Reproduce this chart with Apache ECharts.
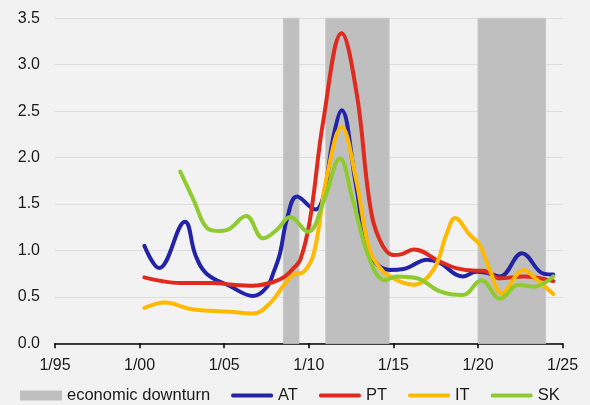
<!DOCTYPE html>
<html>
<head>
<meta charset="utf-8">
<script src="https://cdn.jsdelivr.net/npm/echarts@6/dist/echarts.min.js"></script>
<style>
  html, body { margin: 0; padding: 0; background: #f2f2f2; }
  #chart { width: 590px; height: 405px; }
</style>
</head>
<body>
<div id="chart"></div>
<script>
// [decimal year, value]
const AT = [
  [2000.28, 1.05], [2001.15, 0.81], [2002.68, 1.31], [2003.3, 0.95],
  [2003.96, 0.75], [2005.3, 0.62], [2006.72, 0.51], [2007.5, 0.6], [2007.95, 0.78],
  [2008.3, 0.97], [2008.7, 1.33], [2009.3, 1.58], [2010.4, 1.44], [2010.86, 1.58],
  [2011.45, 2.22], [2011.94, 2.51], [2012.8, 1.69], [2013.6, 0.97], [2014.8, 0.79],
  [2015.6, 0.8], [2017.0, 0.9], [2017.7, 0.87], [2019.1, 0.72], [2019.9, 0.77],
  [2020.5, 0.76], [2021.3, 0.72], [2022.6, 0.97], [2023.86, 0.75], [2024.45, 0.74]
];
const PT = [
  [2000.28, 0.71], [2001.3, 0.67], [2002.4, 0.65], [2004.4, 0.65], [2005.5, 0.63],
  [2006.7, 0.62], [2007.9, 0.66], [2008.6, 0.72], [2009.1, 0.81], [2009.5, 0.9],
  [2010.07, 1.33], [2010.86, 2.4], [2011.94, 3.34], [2012.83, 2.69], [2013.6, 1.51],
  [2014.2, 1.11], [2015.0, 0.95], [2015.5, 0.96], [2016.2, 1.01], [2017.75, 0.88],
  [2018.7, 0.81], [2019.9, 0.78], [2020.3, 0.78], [2021.3, 0.7], [2022.7, 0.72],
  [2024.45, 0.67]
];
const IT = [
  [2000.28, 0.38], [2001.5, 0.44], [2003.0, 0.37], [2005.3, 0.34], [2006.7, 0.32],
  [2007.7, 0.43], [2008.5, 0.62], [2009.1, 0.74], [2009.7, 0.77], [2010.3, 0.97],
  [2011.06, 1.79], [2011.94, 2.33], [2012.8, 1.76], [2013.6, 1.0], [2014.4, 0.77],
  [2014.8, 0.72], [2015.6, 0.65], [2016.2, 0.63], [2017.36, 0.79], [2018.15, 1.18],
  [2018.65, 1.35], [2019.5, 1.17], [2020.1, 1.06], [2020.7, 0.79], [2021.4, 0.54],
  [2022.7, 0.79], [2023.5, 0.68], [2024.45, 0.53]
];
const SK = [
  [2002.4, 1.85], [2003.2, 1.54], [2004.0, 1.24], [2004.75, 1.21], [2005.3, 1.23],
  [2006.3, 1.37], [2007.3, 1.13], [2008.1, 1.22], [2008.9, 1.36], [2009.95, 1.2],
  [2010.9, 1.54], [2011.84, 1.99], [2012.6, 1.54], [2013.6, 0.9], [2014.5, 0.68],
  [2015.2, 0.72], [2016.4, 0.7], [2017.75, 0.56], [2019.1, 0.52], [2020.2, 0.68],
  [2021.3, 0.48], [2022.4, 0.63], [2023.3, 0.61], [2024.45, 0.72]
];
// economic downturn periods [from, to]
const downturns = [[2008.5, 2009.42], [2011.0, 2014.75], [2020.0, 2024.0]];

const font = 'Liberation Sans, Arial, sans-serif';
// thick line legend icon, keeps full 42x10 box so it is not stretched
const lineIcon = 'path://M0,0 L0.01,0 M1.5,3 L40.5,3 Q42,3 42,5 Q42,7 40.5,7 L1.5,7 Q0,7 0,5 Q0,3 1.5,3 Z M0,10 L0.01,10';

function lineSeries(name, data, color) {
  return {
    name: name,
    type: 'line',
    data: data,
    smooth: 0.4,
    symbol: 'none',
    lineStyle: { width: 4, color: color, cap: 'round' },
    itemStyle: { color: color },
    z: 3
  };
}

const chart = echarts.init(document.getElementById('chart'));
chart.setOption({
  backgroundColor: '#f2f2f2',
  animation: false,
  grid: { left: 55, right: 27.4, top: 18.3, bottom: 61.7 },
  legend: {
    left: 20,
    top: 387,
    padding: 0,
    itemWidth: 42,
    itemHeight: 10,
    itemGap: 21,
    textStyle: { fontFamily: font, fontSize: 16.5, color: '#1a1a1a' },
    data: [
      { name: 'economic downturn', icon: 'rect' },
      { name: 'AT', icon: lineIcon },
      { name: 'PT', icon: lineIcon },
      { name: 'IT', icon: lineIcon },
      { name: 'SK', icon: lineIcon }
    ]
  },
  xAxis: {
    type: 'value',
    min: 1995,
    max: 2025,
    interval: 5,
    axisLine: { show: true, lineStyle: { color: '#000', width: 1.5 } },
    axisTick: { show: true, length: 5, lineStyle: { color: '#000', width: 1.5 } },
    axisLabel: {
      margin: 14,
      fontFamily: font, fontSize: 16, color: '#1a1a1a',
      formatter: v => '1/' + String(v).slice(2)
    },
    splitLine: { show: false }
  },
  yAxis: {
    type: 'value',
    min: 0,
    max: 3.5,
    interval: 0.5,
    axisLine: { show: false },
    axisTick: { show: false },
    axisLabel: {
      margin: 15,
      fontFamily: font, fontSize: 16, color: '#1a1a1a',
      formatter: v => v.toFixed(1)
    },
    splitLine: { lineStyle: { color: '#dedede', width: 1 } }
  },
  series: [
    {
      name: 'economic downturn',
      type: 'line',
      data: [],
      itemStyle: { color: '#bfbfbf' },
      markArea: {
        silent: true,
        itemStyle: { color: '#bfbfbf', borderColor: '#c9c9c9', borderWidth: 1 },
        data: downturns.map(d => [{ xAxis: d[0] }, { xAxis: d[1] }])
      },
      z: 1
    },
    lineSeries('AT', AT, '#2323a8'),
    lineSeries('PT', PT, '#df2a1e'),
    lineSeries('IT', IT, '#ffb900'),
    lineSeries('SK', SK, '#8fcb2f')
  ]
});
</script>
</body>
</html>
